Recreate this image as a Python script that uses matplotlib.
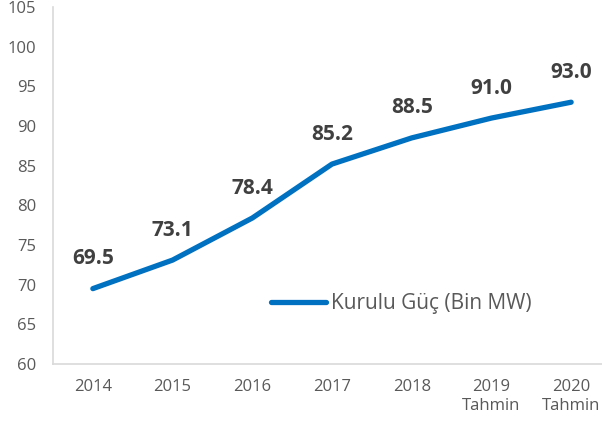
import matplotlib
matplotlib.use("Agg")
import matplotlib.pyplot as plt

categories = ["2014", "2015", "2016", "2017", "2018", "2019\nTahmin", "2020\nTahmin"]
values = [69.5, 73.1, 78.4, 85.2, 88.5, 91.0, 93.0]
series_name = "Kurulu Güç (Bin MW)"
yticks = [60, 65, 70, 75, 80, 85, 90, 95, 100, 105]

plt.rcParams['font.family'] = ['Open Sans', 'DejaVu Sans']

fig = plt.figure(figsize=(6.02, 4.28), dpi=100)
ax = fig.add_axes([53/602, 64/428, 558/602, 357/428])

x = list(range(len(categories)))
line, = ax.plot(x, values, color="#0070C0", linewidth=3.8, solid_capstyle="round",
                solid_joinstyle="round", label=series_name)

for xi, v in zip(x, values):
    ax.annotate(f"{v:.1f}", (xi, v), xytext=(0, 14), textcoords="offset points",
                ha="center", va="bottom", fontsize=15, fontweight="bold", color="#404040")

ax.set_xlim(-0.5, len(categories) - 0.5)
ax.set_ylim(60, 105)
ax.set_yticks(yticks)
ax.set_xticks(x)
ax.set_xticklabels(categories, linespacing=1.25)

for s in ["top", "right"]:
    ax.spines[s].set_visible(False)
for s in ["left", "bottom"]:
    ax.spines[s].set_color("#D9D9D9")
    ax.spines[s].set_linewidth(1.2)

ax.tick_params(axis="both", length=0, labelsize=12, labelcolor="#595959")
ax.tick_params(axis="y", pad=12)
ax.tick_params(axis="x", pad=11)

leg = fig.legend(handles=[line], loc="center left", bbox_to_anchor=(271/602, 1 - 304/428),
                 frameon=False, fontsize=15, handlelength=2.65, handletextpad=0.25,
                 borderaxespad=0, borderpad=0)
for t in leg.get_texts():
    t.set_color("#595959")

fig.savefig("out.png", dpi=100)
